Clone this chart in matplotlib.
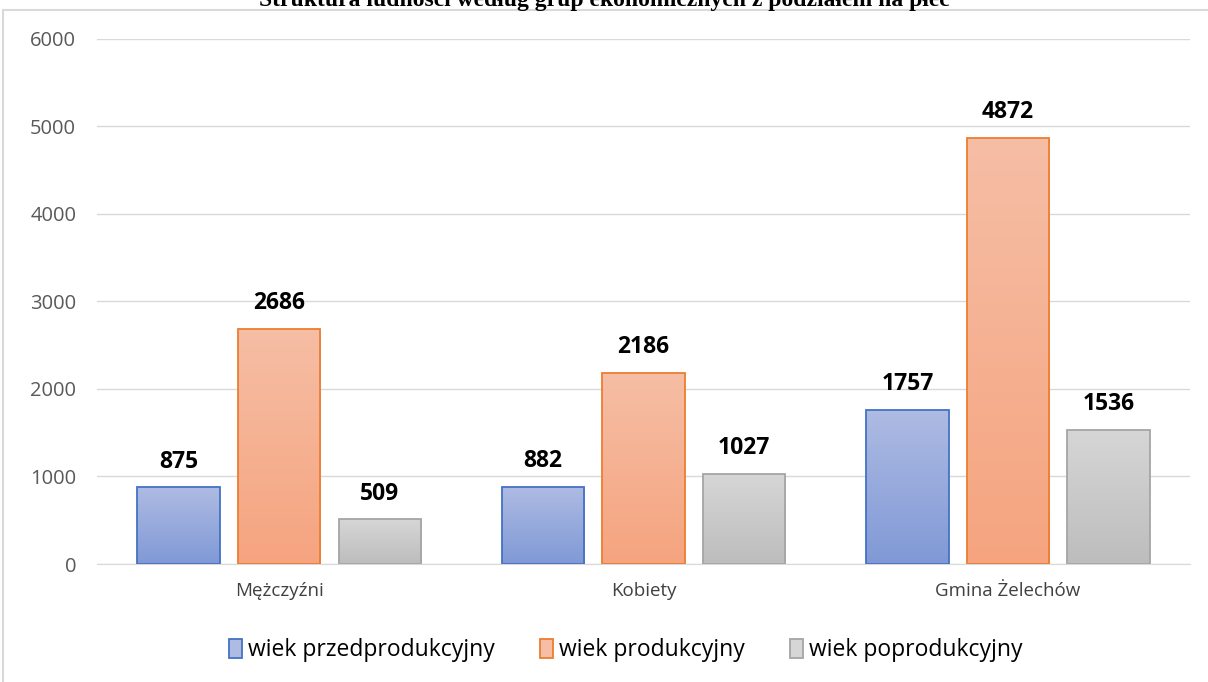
import numpy as np
import matplotlib.pyplot as plt
from matplotlib.patches import Rectangle, Patch
from matplotlib.colors import LinearSegmentedColormap

categories = ['Mężczyźni', 'Kobiety', 'Gmina Żelechów']
series_names = ['wiek przedprodukcyjny', 'wiek produkcyjny', 'wiek poprodukcyjny']
przed = [875, 882, 1757]
prod = [2686, 2186, 4872]
popr = [509, 1027, 1536]
values = [przed, prod, popr]

edge_cols = ['#4472c4', '#ed7d31', '#a5a5a5']
grad_cols = [('#aebbe3', '#8099d6'), ('#f6bea5', '#f5a47f'), ('#d6d6d6', '#bdbdbd')]

fig = plt.figure(figsize=(12.08, 6.82), dpi=100)
ax = fig.add_axes([0.0803, 0.173, 0.905, 0.770])

x = np.arange(len(categories))
width = 0.226
step = 0.276

for i, vals in enumerate(values):
    bars = ax.bar(x + (i - 1) * step, vals, width, color='none',
                  edgecolor=edge_cols[i], linewidth=1.3, zorder=3)
    cmap = LinearSegmentedColormap.from_list('g%d' % i, [grad_cols[i][1], grad_cols[i][0]])
    for b, v in zip(bars, vals):
        x0, w, h = b.get_x(), b.get_width(), b.get_height()
        im = ax.imshow(np.linspace(0, 1, 100).reshape(-1, 1), cmap=cmap, origin='lower',
                       extent=[x0, x0 + w, 0, h], aspect='auto', zorder=2)
        im.set_clip_path(b)
        ax.annotate(str(v), (x0 + w / 2, h), xytext=(0, 10), textcoords='offset points',
                    ha='center', va='bottom', fontsize=16.5, fontweight='bold',
                    family='Open Sans', color='black')

ax.set_xlim(-0.5, 2.5)
ax.set_ylim(0, 6000)
ax.set_yticks(np.arange(0, 6001, 1000))
ax.set_xticks(x)
ax.set_xticklabels(categories, fontsize=13.5, family='Open Sans', color='#404040')
ax.tick_params(axis='y', labelsize=14.5, labelcolor='#595959', length=0, pad=15)
ax.tick_params(axis='x', length=0, pad=13)
for lab in ax.get_yticklabels():
    lab.set_family('Open Sans')
ax.grid(axis='y', color='#d9d9d9', linewidth=1, zorder=0)
for s in ['top', 'right', 'left']:
    ax.spines[s].set_visible(False)
ax.spines['bottom'].set_color('#d9d9d9')

# chart frame
fig.patches.append(Rectangle((3 / 1208, -0.01), 1.01, (682 - 10) / 682 + 0.01,
                             transform=fig.transFigure, fill=False,
                             edgecolor='#d9d9d9', linewidth=1.5))

fig.text(0.5, 1 - 6 / 682, 'Struktura ludności według grup ekonomicznych z podziałem na płeć',
         ha='center', va='baseline', fontsize=17, fontweight='bold',
         family='Liberation Serif')

handles = [Patch(facecolor=grad_cols[i][0], edgecolor=edge_cols[i], linewidth=1.3)
           for i in range(3)]
fig.legend(handles, series_names, loc='center', bbox_to_anchor=(0.518, 0.047), ncol=3,
           frameon=False, prop={'family': 'Open Sans', 'size': 16.5},
           handlelength=0.55, handleheight=0.9, handletextpad=0.25, columnspacing=2.0)

fig.savefig('out.png', dpi=100)
